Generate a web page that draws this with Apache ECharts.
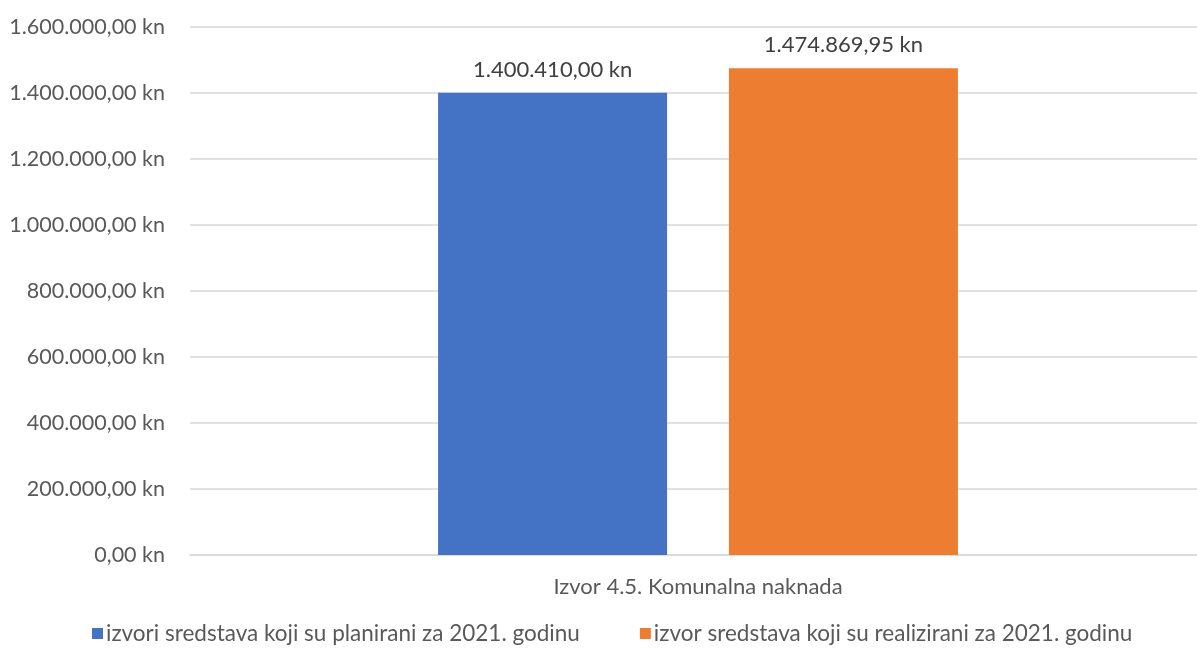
<!DOCTYPE html>
<html><head><meta charset="utf-8">
<script src="https://cdn.jsdelivr.net/npm/echarts@6/dist/echarts.min.js"></script>
<style>html,body{margin:0;padding:0;background:#fff}#c{width:1197px;height:650px}</style>
</head><body><div id="c"></div>
<script>
const categories = ['Izvor 4.5. Komunalna naknada'];
const seriesNames = ['izvori sredstava koji su planirani za 2021. godinu','izvor sredstava koji su realizirani za 2021. godinu'];
const planned = [1400410.00];
const realized = [1474869.95];
const colors = ['#4472C4','#ED7D31'];
const FONT = 'Lato';
function fmt(v){
  const parts = v.toFixed(2).split('.');
  const intp = parts[0].replace(/\B(?=(\d{3})+(?!\d))/g,'.');
  return intp + ',' + parts[1] + ' kn';
}
const chart = echarts.init(document.getElementById('c'));
const lbl = {show:true, position:'top', distance:12, color:'#404040', fontSize:22, fontFamily:FONT, formatter:p=>fmt(p.value)};
chart.setOption({
  animation:false,
  textStyle:{fontFamily:FONT},
  grid:{left:190, right:-9, top:27, bottom:95, outerBoundsMode:'none', containLabel:false},
  legend:{bottom:0, left:87, itemWidth:11, itemHeight:11, itemGap:60, icon:'rect',
    textStyle:{color:'#595959', fontSize:22.5, fontFamily:FONT, padding:[0,0,0,-2]}},
  xAxis:{type:'category', data:categories, axisTick:{show:false},
    axisLine:{lineStyle:{color:'#d9d9d9', width:1.5}},
    axisLabel:{color:'#595959', fontSize:22, fontFamily:FONT, margin:21}},
  yAxis:{type:'value', min:0, max:1600000, interval:200000,
    axisLabel:{color:'#595959', fontSize:21.5, fontFamily:FONT, margin:25, formatter:v=>fmt(v)},
    splitLine:{lineStyle:{color:'#d9d9d9', width:1.5}}, axisLine:{show:false}, axisTick:{show:false}},
  series:[
    {name:seriesNames[0], type:'bar', data:planned, barWidth:229, barGap:'27%', itemStyle:{color:colors[0]}, label:lbl},
    {name:seriesNames[1], type:'bar', data:realized, barWidth:229, barGap:'27%', itemStyle:{color:colors[1]}, label:lbl}
  ]
});
</script></body></html>
